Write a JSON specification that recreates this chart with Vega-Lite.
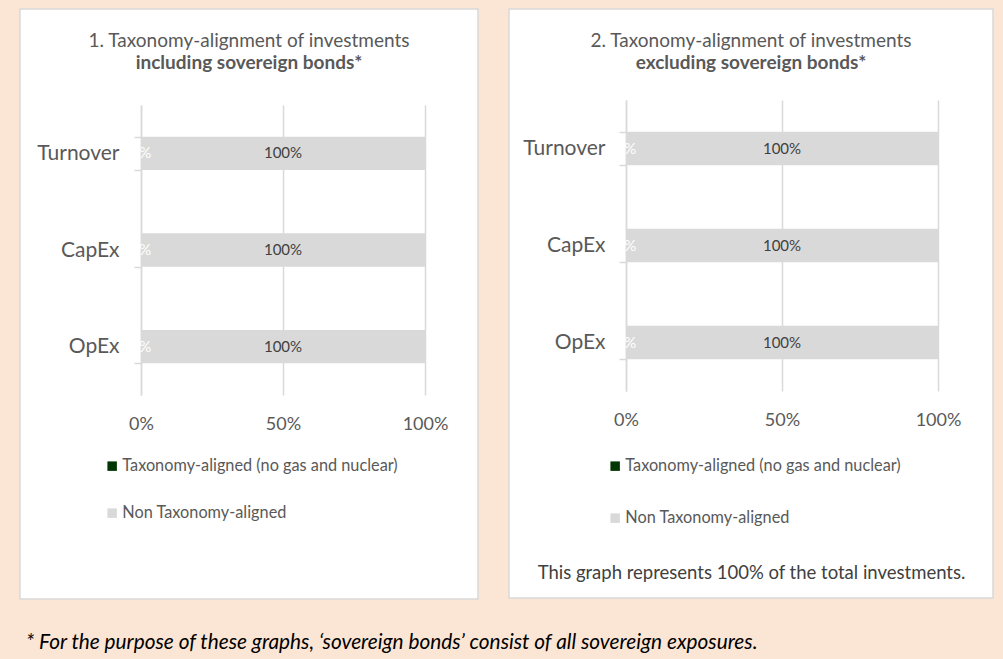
{
  "$schema": "https://vega.github.io/schema/vega-lite/v6.json",
  "background": "#fbe6d5",
  "padding": {"left": 19, "top": -3, "right": 11, "bottom": 15},
  "spacing": 31,
  "bounds": "flush",
  "title": {
    "text": "* For the purpose of these graphs, ‘sovereign bonds’ consist of all sovereign exposures.",
    "orient": "bottom",
    "anchor": "start",
    "frame": "group",
    "offset": 33,
    "dx": 6,
    "font": "Lato",
    "fontSize": 20.8,
    "fontStyle": "italic",
    "fontWeight": "normal",
    "color": "#000000"
  },
  "datasets": {
    "p1": [
      {"cat": "Turnover", "series": "Taxonomy-aligned (no gas and nuclear)", "value": 0},
      {"cat": "Turnover", "series": "Non Taxonomy-aligned", "value": 1},
      {"cat": "CapEx", "series": "Taxonomy-aligned (no gas and nuclear)", "value": 0},
      {"cat": "CapEx", "series": "Non Taxonomy-aligned", "value": 1},
      {"cat": "OpEx", "series": "Taxonomy-aligned (no gas and nuclear)", "value": 0},
      {"cat": "OpEx", "series": "Non Taxonomy-aligned", "value": 1}
    ],
    "p2": [
      {"cat": "Turnover", "series": "Taxonomy-aligned (no gas and nuclear)", "value": 0},
      {"cat": "Turnover", "series": "Non Taxonomy-aligned", "value": 1},
      {"cat": "CapEx", "series": "Taxonomy-aligned (no gas and nuclear)", "value": 0},
      {"cat": "CapEx", "series": "Non Taxonomy-aligned", "value": 1},
      {"cat": "OpEx", "series": "Taxonomy-aligned (no gas and nuclear)", "value": 0},
      {"cat": "OpEx", "series": "Non Taxonomy-aligned", "value": 1}
    ]
  },
  "resolve": {"scale": {"color": "independent", "x": "independent", "y": "independent"}, "legend": {"color": "independent"}},
  "hconcat": [
    {
      "width": 458,
      "height": 590,
      "data": {"name": "p1"},
      "title": {
        "text": "1. Taxonomy-alignment of investments",
        "subtitle": "including sovereign bonds*",
        "anchor": "middle",
        "frame": "group",
        "offset": -75,
        "font": "Lato",
        "fontSize": 19,
        "fontWeight": "normal",
        "color": "#595959",
        "subtitleFont": "Lato",
        "subtitleFontSize": 19,
        "subtitleFontWeight": "bold",
        "subtitleColor": "#595959",
        "subtitlePadding": 3
      },
      "transform": [
        {"stack": "value", "groupby": ["cat"], "sort": [{"field": "series", "order": "descending"}], "as": ["v0", "v1"]},
        {"calculate": "(datum.v0 + datum.v1) / 2", "as": "mid"}
      ],
      "encoding": {
        "y": {
          "field": "cat",
          "type": "nominal",
          "sort": ["Turnover", "CapEx", "OpEx"],
          "scale": {"domain": ["Turnover", "CapEx", "OpEx"], "range": [96, 386], "paddingInner": 0.656, "paddingOuter": 0.328},
          "axis": {
            "orient": "left",
            "offset": -121,
            "title": null,
            "tickBand": "extent",
            "domainColor": "#d9d9d9",
            "domainWidth": 1.5,
            "tickColor": "#d9d9d9",
            "tickWidth": 1.5,
            "tickSize": 7,
            "labelPadding": 15,
            "labelFont": "Lato",
            "labelFontSize": 21,
            "labelColor": "#595959",
            "grid": false
          }
        }
      },
      "layer": [
        {
          "mark": {"type": "bar"},
          "encoding": {
            "x": {
              "field": "v0",
              "type": "quantitative",
              "scale": {"domain": [0, 1], "range": [121, 405], "nice": false, "zero": false},
              "axis": {
                "orient": "top",
                "offset": -420,
                "values": [0, 0.5, 1],
                "format": ".0%",
                "title": null,
                "domain": false,
                "ticks": false,
                "tickSize": 0,
                "labelPadding": 0,
                "labelBaseline": "alphabetic",
                "labelFlush": false,
                "labelOverlap": false,
                "labelFont": "Lato",
                "labelFontSize": 18,
                "labelColor": "#595959",
                "grid": true,
                "gridColor": "#d9d9d9",
                "gridWidth": 1.5
              }
            },
            "x2": {"field": "v1"},
            "color": {
              "field": "series",
              "type": "nominal",
              "scale": {"domain": ["Taxonomy-aligned (no gas and nuclear)", "Non Taxonomy-aligned"], "range": ["#023602", "#d9d9d9"]},
              "legend": {
                "orient": "none",
                "legendX": 84,
                "legendY": 449,
                "direction": "vertical",
                "title": null,
                "symbolType": "square",
                "symbolSize": 90,
                "symbolStrokeWidth": 0,
                "labelFont": "Lato",
                "labelFontSize": 16.3,
                "labelColor": "#595959",
                "labelLimit": 500,
                "labelOffset": 2,
                "rowPadding": 30
              }
            }
          }
        },
        {
          "mark": {"type": "text", "font": "Lato", "fontSize": 15},
          "encoding": {
            "x": {"field": "mid", "type": "quantitative"},
            "text": {"field": "value", "type": "quantitative", "format": ".0%"},
            "color": {
              "condition": {"test": "datum.series == 'Taxonomy-aligned (no gas and nuclear)'", "value": "#ffffff"},
              "value": "#404040"
            }
          }
        }
      ]
    },
    {
      "width": 484,
      "height": 589,
      "data": {"name": "p2"},
      "title": {
        "text": "2. Taxonomy-alignment of investments",
        "subtitle": "excluding sovereign bonds*",
        "anchor": "middle",
        "frame": "group",
        "offset": -75,
        "font": "Lato",
        "fontSize": 19,
        "fontWeight": "normal",
        "color": "#595959",
        "subtitleFont": "Lato",
        "subtitleFontSize": 19,
        "subtitleFontWeight": "bold",
        "subtitleColor": "#595959",
        "subtitlePadding": 3
      },
      "transform": [
        {"stack": "value", "groupby": ["cat"], "sort": [{"field": "series", "order": "descending"}], "as": ["v0", "v1"]},
        {"calculate": "(datum.v0 + datum.v1) / 2", "as": "mid"}
      ],
      "encoding": {
        "y": {
          "field": "cat",
          "type": "nominal",
          "sort": ["Turnover", "CapEx", "OpEx"],
          "scale": {"domain": ["Turnover", "CapEx", "OpEx"], "range": [91, 382], "paddingInner": 0.656, "paddingOuter": 0.328},
          "axis": {
            "orient": "left",
            "offset": -117,
            "title": null,
            "tickBand": "extent",
            "domainColor": "#d9d9d9",
            "domainWidth": 1.5,
            "tickColor": "#d9d9d9",
            "tickWidth": 1.5,
            "tickSize": 7,
            "labelPadding": 14,
            "labelFont": "Lato",
            "labelFontSize": 21,
            "labelColor": "#595959",
            "grid": false
          }
        }
      },
      "layer": [
        {
          "mark": {"type": "bar"},
          "encoding": {
            "x": {
              "field": "v0",
              "type": "quantitative",
              "scale": {"domain": [0, 1], "range": [117, 429], "nice": false, "zero": false},
              "axis": {
                "orient": "top",
                "offset": -416,
                "values": [0, 0.5, 1],
                "format": ".0%",
                "title": "This graph represents 100% of the total investments.",
                "titleX": 242,
                "titleY": 147,
                "titleAlign": "center",
                "titleAnchor": "middle",
                "titleBaseline": "middle",
                "titleAngle": 0,
                "titleFont": "Lato",
                "titleFontSize": 18.5,
                "titleFontWeight": "normal",
                "titleColor": "#404040",
                "domain": false,
                "ticks": false,
                "tickSize": 0,
                "labelPadding": 0,
                "labelBaseline": "alphabetic",
                "labelFlush": false,
                "labelOverlap": false,
                "labelFont": "Lato",
                "labelFontSize": 18,
                "labelColor": "#595959",
                "grid": true,
                "gridColor": "#d9d9d9",
                "gridWidth": 1.5
              }
            },
            "x2": {"field": "v1"},
            "color": {
              "field": "series",
              "type": "nominal",
              "scale": {"domain": ["Taxonomy-aligned (no gas and nuclear)", "Non Taxonomy-aligned"], "range": ["#023602", "#d9d9d9"]},
              "legend": {
                "orient": "none",
                "legendX": 98,
                "legendY": 449,
                "direction": "vertical",
                "title": null,
                "symbolType": "square",
                "symbolSize": 90,
                "symbolStrokeWidth": 0,
                "labelFont": "Lato",
                "labelFontSize": 16.3,
                "labelColor": "#595959",
                "labelLimit": 500,
                "labelOffset": 2,
                "rowPadding": 35
              }
            }
          }
        },
        {
          "mark": {"type": "text", "font": "Lato", "fontSize": 15},
          "encoding": {
            "x": {"field": "mid", "type": "quantitative"},
            "text": {"field": "value", "type": "quantitative", "format": ".0%"},
            "color": {
              "condition": {"test": "datum.series == 'Taxonomy-aligned (no gas and nuclear)'", "value": "#ffffff"},
              "value": "#404040"
            }
          }
        }
      ]
    }
  ],
  "config": {
    "view": {"fill": "#ffffff", "stroke": "#d9d9d9", "strokeWidth": 1.5},
    "font": "Lato"
  }
}
